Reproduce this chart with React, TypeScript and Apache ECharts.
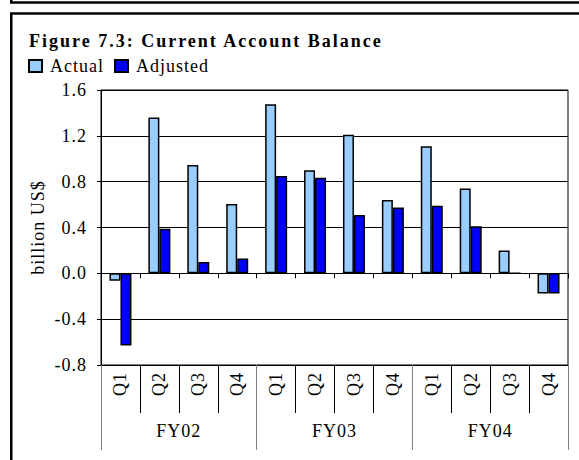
import React, { useEffect, useRef } from "react";
import * as echarts from "echarts";

const quarters = ["Q1", "Q2", "Q3", "Q4", "Q1", "Q2", "Q3", "Q4", "Q1", "Q2", "Q3", "Q4"];
const fiscalYears = ["FY02", "FY03", "FY04"];
const actual = [-0.065, 1.36, 0.945, 0.605, 1.475, 0.9, 1.21, 0.64, 1.11, 0.74, 0.2, -0.175];
const adjusted = [-0.63, 0.39, 0.1, 0.13, 0.85, 0.835, 0.51, 0.575, 0.59, 0.41, 0, -0.175];
const yMin = -0.8;
const yMax = 1.6;
const yStep = 0.4;
const titleText = "Figure 7.3: Current Account Balance";
const yName = "billion US$";
const seriesNames = ["Actual", "Adjusted"];

const FONT = "'Liberation Serif', 'Times New Roman', serif";
const CSS = `
.fig73 svg text { letter-spacing: 1px; }
.fig73 svg text[style*="bold"] { letter-spacing: 2px; }
`;

export default function App() {
  const ref = useRef<HTMLDivElement>(null);
  useEffect(() => {
    if (!ref.current) return;
    const chart = echarts.init(ref.current, null, { renderer: "svg" });
    const barStyle = (color: string) => ({ color, borderColor: "#000", borderWidth: 1.5 });
    chart.setOption({
      animation: false,
      backgroundColor: "#fff",
      textStyle: { fontFamily: FONT, color: "#000" },
      title: {
        text: titleText,
        left: 29,
        top: 32,
        padding: 0,
        textStyle: { fontFamily: FONT, fontWeight: "bold", fontSize: 18, color: "#000" },
      },
      legend: {
        left: 28,
        top: 57,
        padding: 0,
        itemWidth: 13,
        itemHeight: 12,
        itemGap: 16,
        icon: "rect",
        data: seriesNames,
        textStyle: { fontFamily: FONT, fontSize: 18, color: "#000", padding: [0, 0, 0, 3] },
      },
      grid: {
        left: 101,
        right: 11,
        top: 90,
        bottom: 95,
        show: true,
        borderColor: "#000",
        borderWidth: 1,
        containLabel: false,
      },
      xAxis: [
        {
          type: "category",
          data: quarters,
          position: "bottom",
          axisLine: { show: true, onZero: true, lineStyle: { color: "#000", width: 1 } },
          axisTick: { show: true, length: 5, interval: 0, lineStyle: { color: "#000" } },
          axisLabel: { show: false },
          splitLine: { show: false },
          z: 5,
        },
        {
          type: "category",
          data: quarters,
          position: "bottom",
          axisLine: { show: true, onZero: false, lineStyle: { color: "#000", width: 1 } },
          axisTick: { show: true, length: 48, interval: 0, lineStyle: { color: "#000" } },
          axisLabel: {
            show: true,
            interval: 0,
            rotate: 90,
            margin: 7,
            fontFamily: FONT,
            fontSize: 18,
            color: "#000",
          },
          splitLine: { show: false },
        },
        {
          type: "category",
          data: fiscalYears,
          position: "bottom",
          axisLine: { show: false, onZero: false },
          axisTick: { show: true, length: 85, interval: 0, lineStyle: { color: "#808080" } },
          axisLabel: {
            show: true,
            interval: 0,
            margin: 57,
            fontFamily: FONT,
            fontSize: 18,
            color: "#000",
          },
          splitLine: { show: false },
        },
      ],
      yAxis: {
        type: "value",
        min: yMin,
        max: yMax,
        interval: yStep,
        name: yName,
        nameLocation: "middle",
        nameRotate: 90,
        nameGap: 54,
        nameTextStyle: { fontFamily: FONT, fontSize: 18, color: "#000" },
        axisLine: { show: true, lineStyle: { color: "#000", width: 1 } },
        axisTick: { show: true, length: 4, lineStyle: { color: "#000" } },
        axisLabel: {
          margin: 14,
          fontFamily: FONT,
          fontSize: 18,
          color: "#000",
          formatter: (v: number) => v.toFixed(1),
        },
        splitLine: { show: true, lineStyle: { color: "#000", width: 1 } },
      },
      series: [
        {
          name: seriesNames[0],
          type: "bar",
          xAxisIndex: 0,
          data: actual,
          barWidth: 11,
          barGap: "0%",
          itemStyle: barStyle("#99CCFF"),
        },
        {
          name: seriesNames[1],
          type: "bar",
          xAxisIndex: 0,
          data: adjusted,
          barWidth: 11,
          barGap: "0%",
          itemStyle: barStyle("#0000FF"),
        },
      ],
      graphic: [
        {
          type: "polyline",
          silent: true,
          shape: { points: [[11.25, 0], [11.25, 2.5], [579, 2.5]] },
          style: { stroke: "#000", lineWidth: 2.5, fill: "none" },
        },
        {
          type: "polyline",
          silent: true,
          shape: { points: [[11.25, 460], [11.25, 13.5], [579, 13.5]] },
          style: { stroke: "#000", lineWidth: 2.5, fill: "none" },
        },
      ],
    });
    return () => chart.dispose();
  }, []);
  return (
    <>
      <style>{CSS}</style>
      <div
        className="fig73"
        ref={ref}
        style={{ position: "fixed", left: 0, top: 0, width: 579, height: 460, background: "#fff" }}
      />
    </>
  );
}
